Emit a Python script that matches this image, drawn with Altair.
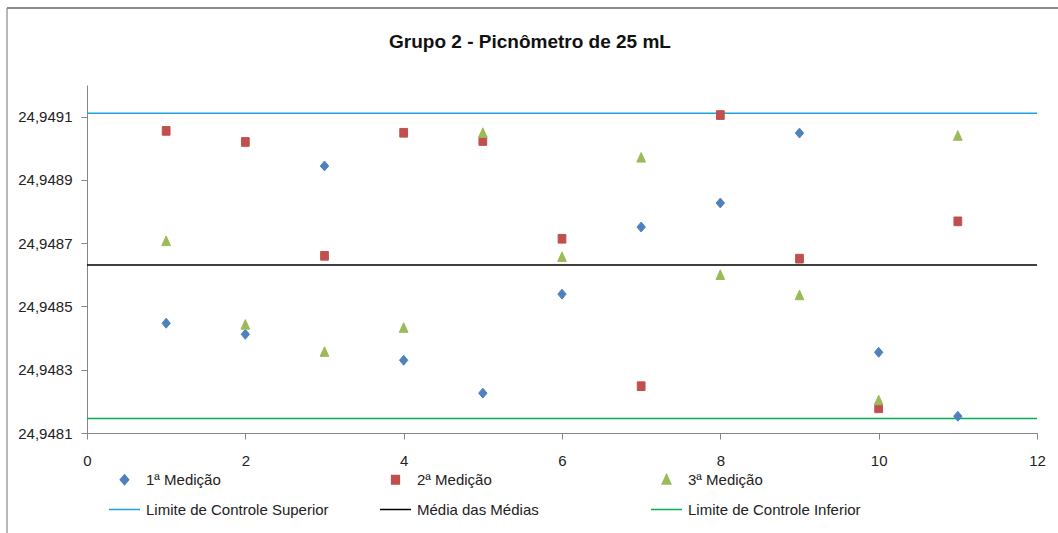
import altair as alt
import pandas as pd

# ---- data ----
x_vals = [1, 2, 3, 4, 5, 6, 7, 8, 9, 10, 11]
med1 = [24.948447, 24.948412, 24.948944, 24.948330, 24.948226, 24.948539,
        24.948751, 24.948827, 24.949048, 24.948355, 24.948153]
med2 = [24.949055, 24.949020, 24.948660, 24.949049, 24.949023, 24.948714,
        24.948248, 24.949105, 24.948651, 24.948178, 24.948769]
med3 = [24.948706, 24.948442, 24.948356, 24.948432, 24.949048, 24.948656,
        24.948970, 24.948599, 24.948535, 24.948203, 24.949039]

point_names = ["1ª Medição", "2ª Medição", "3ª Medição"]
line_names = ["Limite de Controle Superior", "Média das Médias", "Limite de Controle Inferior"]
line_values = [24.949111, 24.948631, 24.948146]

y_ticks = [24.9481, 24.9483, 24.9485, 24.9487, 24.9489, 24.9491]
x_ticks = [0, 2, 4, 6, 8, 10, 12]

colors = ["#4F81BD", "#C0504D", "#9BBB59", "#1FA3DD", "#000000", "#00B050"]
# marker outlines (unit box scaled by symbol size) and legend line symbols
shapes = [
    "M-0.27,0L0,-0.32L0.27,0L0,0.32Z",
    "M-0.25,-0.28L0.25,-0.28L0.25,0.28L-0.25,0.28Z",
    "M0,-0.34L0.28,0.28L-0.28,0.28Z",
    "M-1,0L1,0",
    "M-1,0L1,0",
    "M-1,0L1,0",
]
SYM = 961

FONT = "Liberation Sans, Arial"

rows = []
for name, vals in zip(point_names, [med1, med2, med3]):
    for xv, yv in zip(x_vals, vals):
        rows.append({"x": xv, "y": yv, "serie": name})
pts = pd.DataFrame(rows)
lines = pd.DataFrame({"y": line_values, "serie": line_names})

domain = point_names + line_names
color_scale = alt.Scale(domain=domain, range=colors)

legend = alt.Legend(
    title=None, orient="none", legendX=21, legendY=378, columns=3,
    gridAlign="all", columnPadding=48, rowPadding=5, padding=0,
    labelFont=FONT, labelFontSize=15, labelColor="#222222", labelLimit=320,
    labelOffset=5, symbolStrokeWidth=1.5, symbolSize=SYM, direction="horizontal",
)

x_enc = alt.X("x:Q", scale=alt.Scale(domain=[0, 12], nice=False, zero=False),
              axis=alt.Axis(values=x_ticks, title=None, grid=False, tickSize=6,
                            labelPadding=14, labelFont=FONT, labelFontSize=15,
                            labelColor="#222222", domainColor="#868686",
                            tickColor="#868686", labelFlush=False))
y_scale = alt.Scale(domain=[24.9481, 24.9492], nice=False, zero=False)
y_axis = alt.Axis(values=y_ticks, title=None, grid=False, tickSize=6, labelPadding=9,
                  labelExpr="replace(format(datum.value, '.4f'), '.', ',')",
                  labelFont=FONT, labelFontSize=15, labelColor="#222222",
                  domainColor="#868686", tickColor="#868686")

points = alt.Chart(pts).mark_point(opacity=1, strokeWidth=1, size=SYM).encode(
    x=x_enc,
    y=alt.Y("y:Q", scale=y_scale, axis=y_axis),
    fill=alt.Fill("serie:N", scale=color_scale, legend=legend),
    stroke=alt.Stroke("serie:N", scale=color_scale, legend=legend),
    shape=alt.Shape("serie:N", scale=alt.Scale(domain=domain, range=shapes), legend=legend),
)

rules = alt.Chart(lines).mark_rule(strokeWidth=1.5).encode(
    y=alt.Y("y:Q", scale=y_scale, axis=y_axis),
    stroke=alt.Stroke("serie:N", scale=color_scale, legend=legend),
)

frame_df = pd.DataFrame({"k": [0]})
frame_left = alt.Chart(frame_df).mark_rule(color="#A0A0A0", strokeWidth=1.5).encode(
    x=alt.value(-80), y=alt.value(-77), y2=alt.value(460))
frame_top = alt.Chart(frame_df).mark_rule(color="#8C8C8C", strokeWidth=2).encode(
    x=alt.value(-80), x2=alt.value(990), y=alt.value(-77))

chart = alt.layer(rules, points, frame_left, frame_top).properties(
    width=950, height=348,
    title=alt.TitleParams("Grupo 2 - Picnômetro de 25 mL", font=FONT, fontSize=19,
                          fontWeight="bold", color="#111111", anchor="middle", dx=-32,
                          baseline="alphabetic", offset=-60),
    autosize=alt.AutoSizeParams(type="none"),
    padding={"left": 87, "top": 85, "right": 21, "bottom": 100},
    background="white",
).configure_view(stroke=None)

chart.save("out.html", embed_options={"renderer": "svg", "actions": False})
